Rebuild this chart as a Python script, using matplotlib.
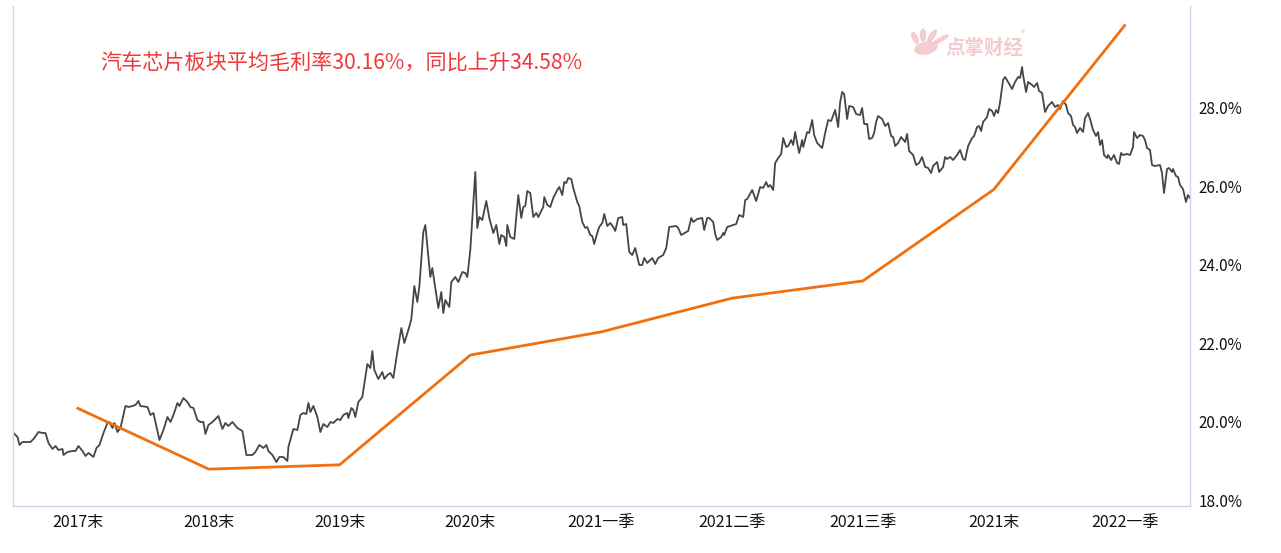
import matplotlib
matplotlib.use("Agg")
import matplotlib.pyplot as plt
from matplotlib.patches import Ellipse

plt.rcParams["font.family"] = ["Noto Sans CJK SC", "DejaVu Sans"]

# quarterly gross margin of the auto-chip sector (%)
periods = ["2017末", "2018末", "2019末", "2020末", "2021一季", "2021二季",
           "2021三季", "2021末", "2022一季"]
margin = [20.34, 18.79, 18.90, 21.70, 22.29, 23.15, 23.59, 25.92, 30.10]

# sector index (unlabelled), trading-day position vs level
day = [1, 5, 7, 10, 15, 18, 21, 26, 30, 33, 36, 40, 43, 46, 50, 51, 55, 60, 63, 66,
       70, 73, 76, 81, 84, 87, 91, 95, 97, 100, 102, 105, 108, 113, 116, 120, 123, 126, 128, 135,
       138, 141, 147, 151, 155, 158, 161, 165, 167, 171, 175, 178, 181, 185, 188, 191, 193, 196, 200, 203,
       206, 210, 213, 216, 220, 225, 230, 234, 240, 243, 247, 251, 254, 256, 260, 264, 267, 271, 275, 276,
       281, 285, 288, 291, 294, 296, 298, 301, 305, 308, 311, 315, 318, 321, 325, 328, 331, 335, 336, 339,
       341, 343, 346, 350, 355, 358, 360, 362, 366, 370, 372, 375, 378, 381, 385, 389, 392, 396, 398, 399,
       402, 405, 407, 411, 413, 418, 420, 421, 426, 429, 431, 433, 437, 439, 443, 446, 450, 453, 455, 458,
       463, 465, 467, 470, 474, 477, 481, 484, 487, 489, 492, 494, 495, 498, 502, 506, 509, 511, 513, 515,
       518, 521, 524, 526, 531, 532, 535, 538, 541, 545, 547, 550, 552, 554, 556, 559, 561, 565, 567, 570,
       573, 575, 578, 580, 582, 585, 587, 590, 592, 595, 598, 601, 603, 606, 610, 611, 614, 617, 620, 623,
       627, 630, 632, 635, 640, 643, 646, 651, 654, 657, 664, 666, 669, 676, 679, 681, 685, 690, 692, 695,
       697, 701, 703, 705, 709, 711, 712, 715, 718, 721, 724, 727, 731, 733, 735, 740, 744, 748, 751, 754,
       756, 758, 761, 763, 766, 769, 771, 774, 776, 779, 781, 783, 785, 787, 790, 791, 795, 797, 800, 802,
       805, 810, 813, 816, 819, 823, 826, 828, 830, 832, 835, 837, 841, 844, 848, 850, 852, 855, 857, 860,
       862, 864, 866, 870, 873, 876, 879, 881, 883, 886, 889, 893, 895, 897, 901, 904, 907, 910, 913, 916,
       919, 921, 925, 927, 931, 933, 935, 938, 941, 945, 948, 951, 953, 956, 960, 962, 965, 967, 969, 971,
       975, 977, 980, 982, 984, 986, 988, 991, 993, 996, 1000, 1003, 1006, 1008, 1010, 1011, 1014, 1016, 1020, 1022,
       1025, 1027, 1030, 1033, 1036, 1040, 1043, 1046, 1048, 1051, 1054, 1056, 1059, 1061, 1063, 1065, 1068, 1071, 1073, 1076,
       1078, 1081, 1084, 1086, 1088, 1090, 1092, 1095, 1096, 1099, 1102, 1105, 1107, 1109, 1111, 1115, 1118, 1121, 1122, 1125,
       1128, 1131, 1133, 1135, 1138, 1140, 1143, 1148, 1150, 1152, 1155, 1157, 1160, 1161, 1164, 1166, 1168, 1171, 1174, 1176,
       1178]
level = [73, 69, 61, 64, 64, 64, 67, 74, 73, 73, 63, 57, 60, 56, 57, 51, 54, 55, 55, 60,
         55, 50, 53, 49, 58, 61, 73, 83, 84, 78, 83, 74, 78, 100, 99, 100, 101, 105, 100, 99,
         91, 93, 66, 76, 89, 84, 91, 103, 100, 108, 104, 99, 98, 86, 84, 84, 72, 81, 84, 87,
         90, 77, 83, 80, 84, 78, 75, 51, 51, 54, 61, 58, 61, 55, 51, 44, 49, 49, 45, 59,
         77, 76, 91, 93, 92, 103, 94, 100, 89, 74, 82, 79, 84, 83, 87, 86, 91, 93, 88, 98,
         96, 89, 104, 109, 142, 138, 155, 136, 127, 134, 127, 131, 133, 128, 154, 178, 163, 176, 183, 187,
         220, 204, 219, 274, 281, 229, 238, 231, 198, 214, 193, 206, 199, 224, 229, 224, 234, 233, 229, 256,
         334, 278, 289, 286, 305, 288, 273, 281, 262, 271, 269, 260, 281, 269, 267, 311, 288, 299, 300, 315,
         313, 289, 293, 289, 299, 309, 301, 299, 308, 316, 319, 311, 324, 323, 328, 327, 318, 304, 300, 284,
         278, 279, 271, 270, 262, 273, 279, 283, 292, 280, 283, 279, 275, 288, 289, 281, 282, 254, 251, 258,
         241, 241, 248, 243, 248, 242, 248, 251, 258, 279, 280, 278, 271, 275, 288, 284, 287, 288, 276, 288,
         288, 284, 272, 266, 269, 273, 271, 279, 280, 281, 282, 291, 289, 306, 307, 316, 305, 319, 318, 324,
         319, 321, 316, 343, 348, 352, 368, 359, 360, 366, 361, 374, 363, 353, 366, 359, 374, 373, 386, 371,
         363, 358, 373, 386, 385, 396, 379, 404, 414, 412, 387, 400, 399, 392, 391, 398, 382, 382, 367, 368,
         373, 384, 390, 387, 380, 383, 370, 369, 360, 363, 369, 364, 372, 355, 351, 341, 343, 349, 339, 338,
         333, 340, 344, 334, 339, 349, 347, 349, 346, 351, 356, 347, 346, 360, 368, 370, 379, 380, 375, 384,
         389, 397, 395, 390, 396, 393, 404, 426, 429, 424, 417, 424, 429, 428, 439, 431, 414, 424, 421, 419,
         423, 415, 413, 394, 400, 404, 399, 401, 397, 405, 401, 393, 390, 381, 379, 373, 378, 374, 388, 393,
         387, 376, 370, 374, 361, 366, 351, 348, 351, 346, 351, 343, 342, 353, 351, 352, 351, 359, 374, 368,
         371, 370, 366, 358, 356, 341, 340, 341, 333, 313, 337, 338, 334, 337, 330, 329, 321, 317, 304, 311,
         308]

W, H = 1281, 553
fig = plt.figure(figsize=(W / 100, H / 100), dpi=100)
rect = [12.5 / W, 47 / H, 1177.5 / W, 500 / H]

SPINE = "#c9d6ea"
GRAY = "#454545"
ORANGE = "#f0700f"
PINK = "#f3c9cc"

# index line (hidden axis)
gax = fig.add_axes(rect, frameon=False)
gax.plot(day, level, color=GRAY, lw=1.3)
gax.set_xlim(0, 1178)
gax.set_ylim(0, 500)
gax.axis("off")

# margin line on the right axis
ax = fig.add_axes(rect)
ax.patch.set_alpha(0)
x = list(range(len(periods)))
ax.plot(x, margin, color=ORANGE, lw=2.0, solid_joinstyle="round")
ax.set_xlim(-0.5, 8.5)
ax.set_ylim(17.85, 30.6)
ax.set_xticks(x)
ax.set_xticklabels(periods)
ax.set_yticks([18, 20, 22, 24, 26, 28])
ax.set_yticklabels([f"{v:.1f}%" for v in [18, 20, 22, 24, 26, 28]])
ax.yaxis.tick_right()
ax.tick_params(axis="both", length=0, colors="#111111")
ax.tick_params(axis="x", pad=6, labelsize=11.5)
ax.tick_params(axis="y", pad=6, labelsize=11)
ax.spines["top"].set_visible(False)
for s in ("left", "bottom", "right"):
    ax.spines[s].set_color(SPINE)
    ax.spines[s].set_linewidth(1.0)

fig.text(100 / W, 1 - 63 / H, "汽车芯片板块平均毛利率30.16%，同比上升34.58%",
         color="#ef3a3a", fontsize=15.2, va="center", ha="left")

# watermark logo (hand-shaped blob) + name
for cx, cy, w, h, a in [(926, 48, 20, 13, -25), (915, 38, 5, 11, 10),
                        (923, 35, 5, 12, 0), (932, 36, 5, 12, -15), (940, 40, 5, 12, -35)]:
    fig.patches.append(Ellipse((cx / W, 1 - cy / H), w / W, h / H, angle=a,
                               color=PINK, alpha=0.9, transform=fig.transFigure))
fig.text(945 / W, 1 - 48 / H, "点掌财经", color=PINK, fontsize=14,
         fontweight="bold", va="center", alpha=0.95)
fig.text(1021 / W, 1 - 34 / H, "®", color=PINK, fontsize=6, va="center")

fig.savefig("out.png", dpi=100, facecolor="white")
